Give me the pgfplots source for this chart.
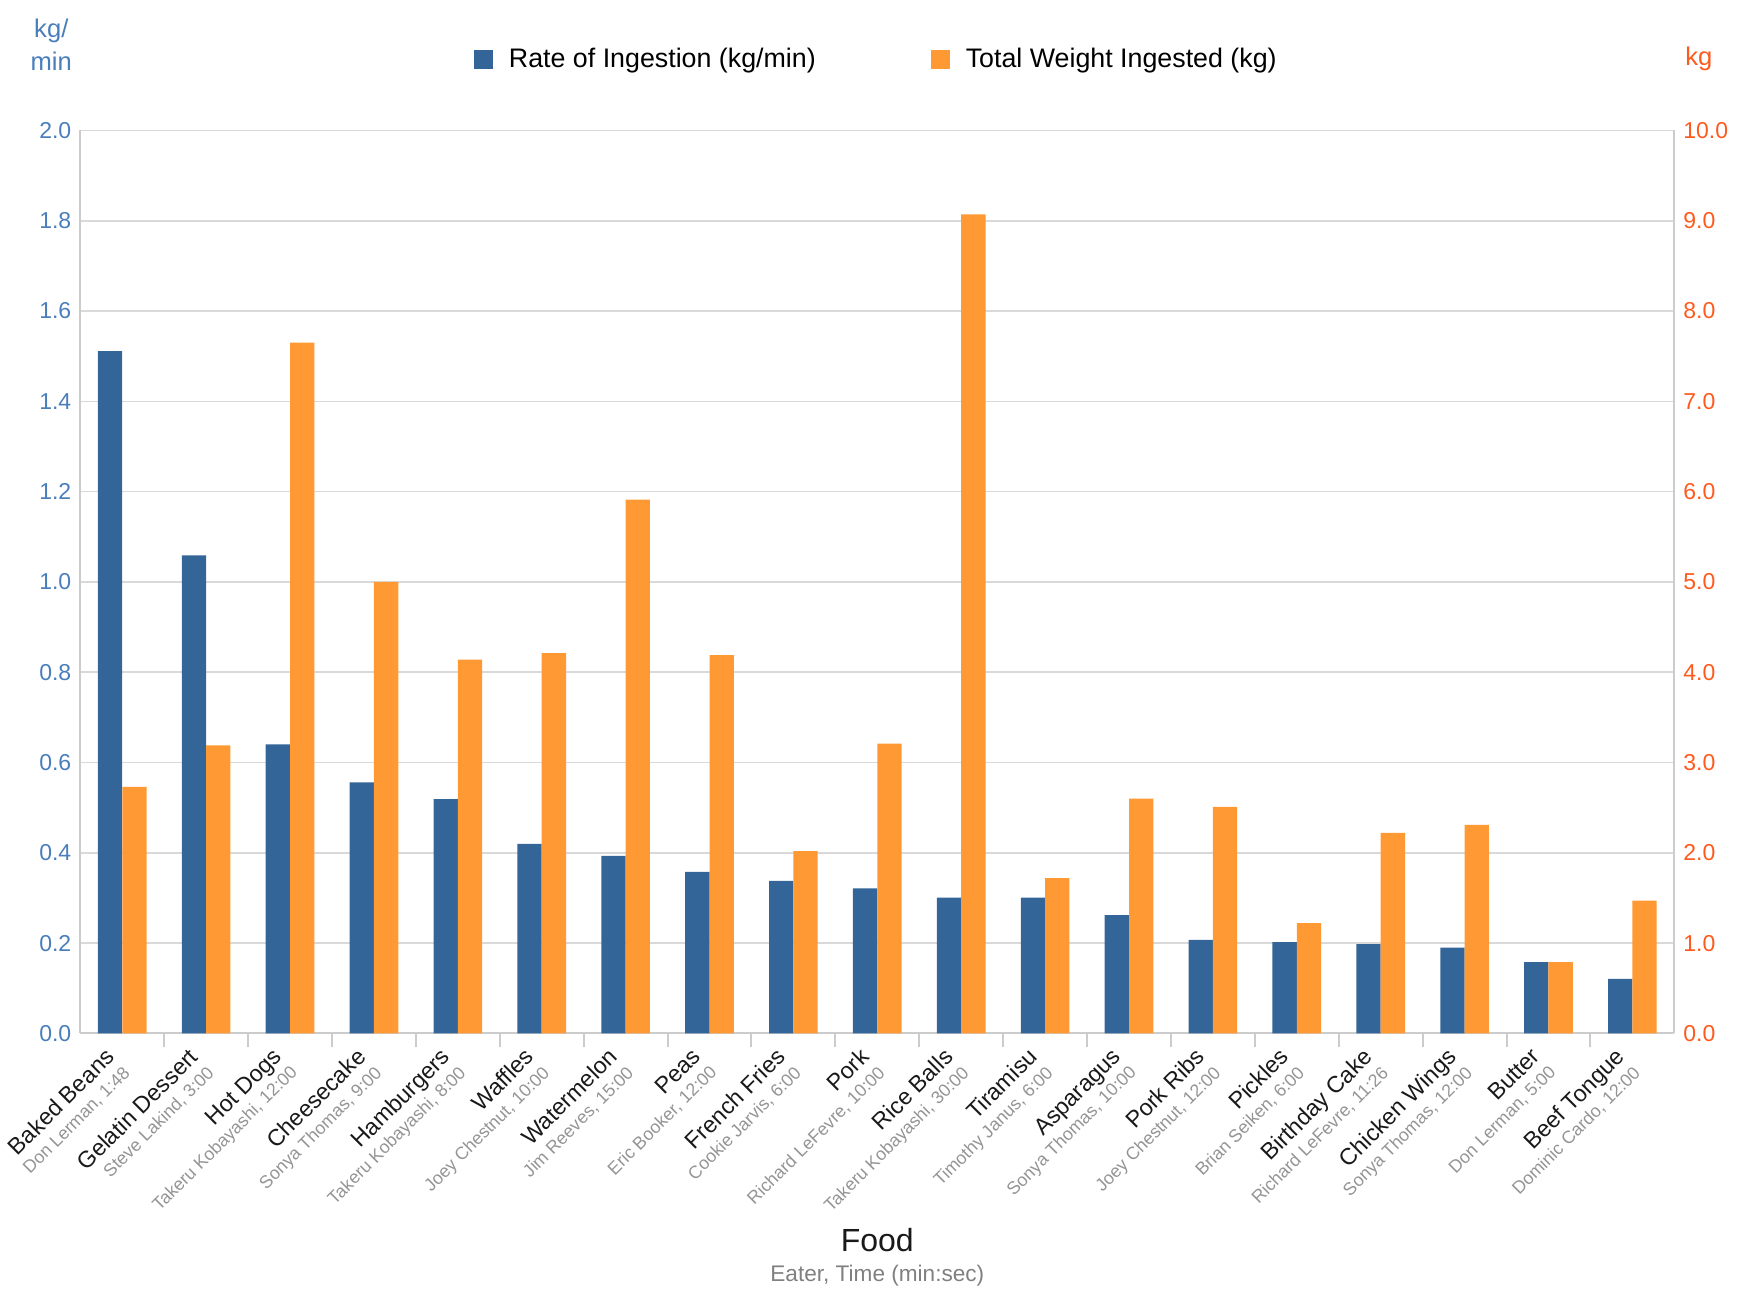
\documentclass[border=0pt]{standalone}
\usepackage{fontspec}
\setmainfont{Liberation Sans}
\usepackage{pgfplots}
\usepackage{pgfplotstable}
\pgfplotsset{compat=1.18}
\definecolor{barblue}{RGB}{52,101,153}
\definecolor{barorange}{RGB}{255,153,51}
\definecolor{lblblue}{RGB}{74,126,187}
\definecolor{lblorange}{RGB}{255,90,30}
\definecolor{axgray}{RGB}{204,204,204}
\definecolor{gridgray}{RGB}{217,217,217}
\newcommand{\lab}[2]{{\fontsize{11.6}{10.9}\selectfont\color{black!90}#1}\\{\color{black!42}#2}}

\pgfplotstableread{
idx rate total
0 1.511 2.73
1 1.059 3.19
2 0.640 7.65
3 0.556 5.00
4 0.519 4.14
5 0.420 4.21
6 0.393 5.91
7 0.358 4.19
8 0.338 2.02
9 0.321 3.21
10 0.301 9.07
11 0.301 1.72
12 0.262 2.60
13 0.207 2.51
14 0.202 1.22
15 0.198 2.22
16 0.190 2.31
17 0.158 0.79
18 0.121 1.47
}\data

\begin{document}
\begin{tikzpicture}
\begin{axis}[
  scale only axis, width=797pt, height=451.5pt,
  at={(0,0)}, anchor=south west,
  xmin=-0.5, xmax=18.5, ymin=0, ymax=2,
  axis y line*=left, axis x line*=bottom,
  axis line style={axgray, line width=1pt},
  xtick={0,...,18},
  xticklabels={\lab{Baked Beans}{Don Lerman, 1:48},
    \lab{Gelatin Dessert}{Steve Lakind, 3:00},
    \lab{Hot Dogs}{Takeru Kobayashi, 12:00},
    \lab{Cheesecake}{Sonya Thomas, 9:00},
    \lab{Hamburgers}{Takeru Kobayashi, 8:00},
    \lab{Waffles}{Joey Chestnut, 10:00},
    \lab{Watermelon}{Jim Reeves, 15:00},
    \lab{Peas}{Eric Booker, 12:00},
    \lab{French Fries}{Cookie Jarvis, 6:00},
    \lab{Pork}{Richard LeFevre, 10:00},
    \lab{Rice Balls}{Takeru Kobayashi, 30:00},
    \lab{Tiramisu}{Timothy Janus, 6:00},
    \lab{Asparagus}{Sonya Thomas, 10:00},
    \lab{Pork Ribs}{Joey Chestnut, 12:00},
    \lab{Pickles}{Brian Seiken, 6:00},
    \lab{Birthday Cake}{Richard LeFevre, 11:26},
    \lab{Chicken Wings}{Sonya Thomas, 12:00},
    \lab{Butter}{Don Lerman, 5:00},
    \lab{Beef Tongue}{Dominic Cardo, 12:00}},
  xticklabel style={xshift=-9.3pt, yshift=-0.7pt, rotate=45, anchor=north east, align=right, inner sep=1pt, font=\fontsize{8.9}{10.9}\selectfont},
  major x tick style={draw=none},
  minor x tick num=1,
  minor x tick style={axgray, line width=1pt},
  minor tick length=7pt,
  xtick align=outside,
  ytick={0,0.2,...,2.0},
  yticklabel style={color=lblblue, font=\fontsize{11.5}{12}\selectfont, xshift=-1pt},
  /pgf/number format/assume math mode=true,
  yticklabel={\pgfmathprintnumber[fixed, fixed zerofill, precision=1]{\tick}},
  major y tick style={draw=none},
  ymajorgrids, y grid style={gridgray, line width=0.8pt},
  legend style={at={(0.5,1.079)}, anchor=center, draw=none, fill=none,
    legend columns=2, font=\fontsize{13.4}{14}\selectfont,
    /tikz/every even column/.append style={column sep=55.5pt}},
  legend image code/.code={\fill[#1] (0pt,-4.75pt) rectangle (9.5pt,4.75pt); \path (15.5pt,0pt);},
]
\addplot[ybar, bar width=0.29, bar shift=-0.145, fill=barblue, draw=none] table[x=idx, y=rate]{\data};
\addlegendentry{Rate of Ingestion (kg/min)}
\addlegendimage{fill=barorange, draw=none}
\addlegendentry{Total Weight Ingested (kg)}
\end{axis}
\begin{axis}[
  scale only axis, width=797pt, height=451.5pt,
  at={(0,0)}, anchor=south west,
  xmin=-0.5, xmax=18.5, ymin=0, ymax=10,
  axis y line*=right, axis x line=none,
  axis line style={axgray, line width=1pt},
  ytick={0,1,...,10},
  yticklabel style={color=lblorange, font=\fontsize{11.5}{12}\selectfont, xshift=1pt},
  /pgf/number format/assume math mode=true,
  yticklabel={\pgfmathprintnumber[fixed, fixed zerofill, precision=1]{\tick}},
  major y tick style={draw=none},
]
\addplot[ybar, bar width=0.29, bar shift=0.145, fill=barorange, draw=none] table[x=idx, y=total]{\data};
\end{axis}
\node[align=center, text=lblblue, font=\fontsize{12.8}{16.7}\selectfont] at (-14.5pt,494.4pt) {kg/\\min};
\node[text=lblorange, font=\fontsize{12.8}{14}\selectfont] at (809.3pt,487.2pt) {kg};
\node[font=\fontsize{16}{18}\selectfont, text=black!90] at (398.5pt,-103.2pt) {Food};
\node[font=\fontsize{11.3}{13}\selectfont, text=black!50] at (398.5pt,-121pt) {Eater, Time (min:sec)};
\pgfresetboundingbox
\path (-40.15pt,-131.8pt) rectangle (833.85pt,516.7pt);
\end{tikzpicture}
\end{document}
